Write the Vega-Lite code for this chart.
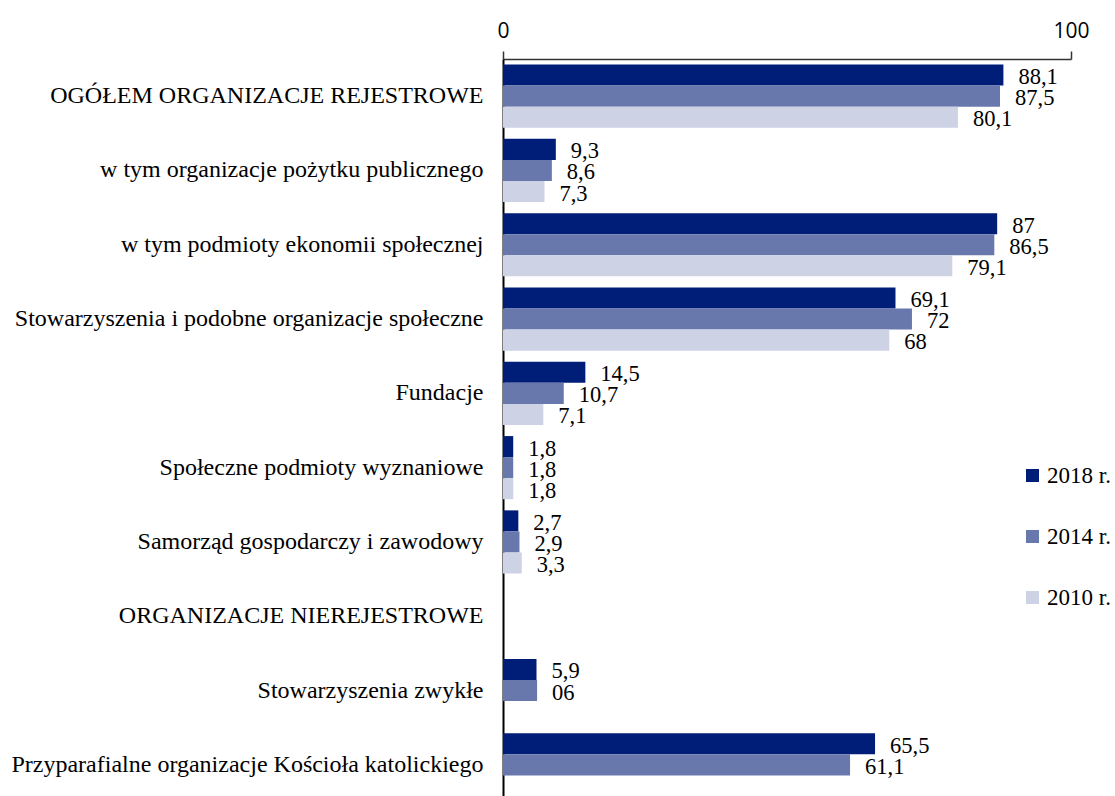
{
  "$schema": "https://vega.github.io/schema/vega-lite/v6.json",
  "autosize": {"type": "none"},
  "padding": {"left": 503, "top": 59, "right": 44, "bottom": 0},
  "width": 568,
  "height": 743,
  "background": "white",
  "config": {"view": {"stroke": null}},
  "data": {"values": [
    {"cat": "OGÓŁEM ORGANIZACJE REJESTROWE", "year": "2018 r.", "value": 88.1, "label": "88,1"},
    {"cat": "OGÓŁEM ORGANIZACJE REJESTROWE", "year": "2014 r.", "value": 87.5, "label": "87,5"},
    {"cat": "OGÓŁEM ORGANIZACJE REJESTROWE", "year": "2010 r.", "value": 80.1, "label": "80,1"},
    {"cat": "w tym organizacje pożytku publicznego", "year": "2018 r.", "value": 9.3, "label": "9,3"},
    {"cat": "w tym organizacje pożytku publicznego", "year": "2014 r.", "value": 8.6, "label": "8,6"},
    {"cat": "w tym organizacje pożytku publicznego", "year": "2010 r.", "value": 7.3, "label": "7,3"},
    {"cat": "w tym podmioty ekonomii społecznej", "year": "2018 r.", "value": 87, "label": "87"},
    {"cat": "w tym podmioty ekonomii społecznej", "year": "2014 r.", "value": 86.5, "label": "86,5"},
    {"cat": "w tym podmioty ekonomii społecznej", "year": "2010 r.", "value": 79.1, "label": "79,1"},
    {"cat": "Stowarzyszenia i podobne organizacje społeczne", "year": "2018 r.", "value": 69.1, "label": "69,1"},
    {"cat": "Stowarzyszenia i podobne organizacje społeczne", "year": "2014 r.", "value": 72, "label": "72"},
    {"cat": "Stowarzyszenia i podobne organizacje społeczne", "year": "2010 r.", "value": 68, "label": "68"},
    {"cat": "Fundacje", "year": "2018 r.", "value": 14.5, "label": "14,5"},
    {"cat": "Fundacje", "year": "2014 r.", "value": 10.7, "label": "10,7"},
    {"cat": "Fundacje", "year": "2010 r.", "value": 7.1, "label": "7,1"},
    {"cat": "Społeczne podmioty wyznaniowe", "year": "2018 r.", "value": 1.8, "label": "1,8"},
    {"cat": "Społeczne podmioty wyznaniowe", "year": "2014 r.", "value": 1.8, "label": "1,8"},
    {"cat": "Społeczne podmioty wyznaniowe", "year": "2010 r.", "value": 1.8, "label": "1,8"},
    {"cat": "Samorząd gospodarczy i zawodowy", "year": "2018 r.", "value": 2.7, "label": "2,7"},
    {"cat": "Samorząd gospodarczy i zawodowy", "year": "2014 r.", "value": 2.9, "label": "2,9"},
    {"cat": "Samorząd gospodarczy i zawodowy", "year": "2010 r.", "value": 3.3, "label": "3,3"},
    {"cat": "Stowarzyszenia zwykłe", "year": "2018 r.", "value": 5.9, "label": "5,9"},
    {"cat": "Stowarzyszenia zwykłe", "year": "2014 r.", "value": 6.0, "label": "06"},
    {"cat": "Przyparafialne organizacje Kościoła katolickiego", "year": "2018 r.", "value": 65.5, "label": "65,5"},
    {"cat": "Przyparafialne organizacje Kościoła katolickiego", "year": "2014 r.", "value": 61.1, "label": "61,1"}
  ]},
  "encoding": {
    "y": {
      "field": "cat", "type": "nominal",
      "scale": {"domain": [
        "OGÓŁEM ORGANIZACJE REJESTROWE",
        "w tym organizacje pożytku publicznego",
        "w tym podmioty ekonomii społecznej",
        "Stowarzyszenia i podobne organizacje społeczne",
        "Fundacje",
        "Społeczne podmioty wyznaniowe",
        "Samorząd gospodarczy i zawodowy",
        "ORGANIZACJE NIEREJESTROWE",
        "Stowarzyszenia zwykłe",
        "Przyparafialne organizacje Kościoła katolickiego"
      ], "paddingInner": 0.15, "paddingOuter": 0.075},
      "axis": {
        "title": null, "ticks": false, "domain": true, "domainColor": "black", "domainWidth": 2,
        "labelFont": "Liberation Serif", "labelFontSize": 24, "labelColor": "black",
        "labelPadding": 20, "labelLimit": 700
      }
    },
    "yOffset": {"field": "year", "type": "nominal", "scale": {"domain": ["2018 r.", "2014 r.", "2010 r."], "paddingInner": 0}},
    "x": {
      "field": "value", "type": "quantitative",
      "scale": {"domain": [0, 100], "nice": false},
      "axis": {
        "orient": "top", "title": null, "values": [0, 100], "grid": false,
        "domainColor": "#333", "domainWidth": 1.5, "tickColor": "#333", "tickWidth": 1.5, "tickSize": 8,
        "labelFont": "Open Sans", "labelFontSize": 21, "labelColor": "black", "labelPadding": 10,
        "labelFlush": false
      }
    }
  },
  "layer": [
    {
      "mark": {"type": "bar"},
      "encoding": {
        "color": {
          "field": "year", "type": "nominal",
          "scale": {"domain": ["2018 r.", "2014 r.", "2010 r."], "range": ["#001E78", "#6878AD", "#CDD2E5"]},
          "legend": {
            "title": null, "orient": "none", "legendX": 518, "legendY": 405,
            "symbolType": "square", "symbolSize": 169, "symbolStrokeWidth": 0,
            "labelFont": "Liberation Serif", "labelFontSize": 23, "labelColor": "black",
            "rowPadding": 37, "labelOffset": 3
          }
        }
      }
    },
    {
      "mark": {"type": "text", "align": "left", "baseline": "middle", "dx": 15, "dy": 2, "font": "Liberation Serif", "fontSize": 22.5, "color": "black"},
      "encoding": {"text": {"field": "label"}}
    }
  ]
}
